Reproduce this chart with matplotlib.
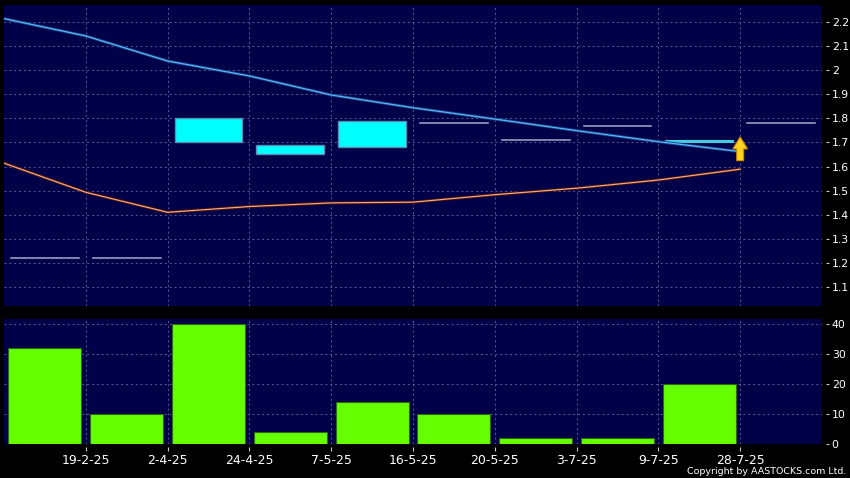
import matplotlib
matplotlib.use("Agg")
import matplotlib.pyplot as plt
from matplotlib.patches import Rectangle
from matplotlib import font_manager

# ---- data ----
tick_labels = ["19-2-25", "2-4-25", "24-4-25", "7-5-25", "16-5-25",
               "20-5-25", "3-7-25", "9-7-25", "28-7-25"]
opens  = [1.22, 1.22, 1.70, 1.69, 1.68, 1.78, 1.71, 1.77, 1.70, 1.78]
closes = [1.22, 1.22, 1.80, 1.65, 1.79, 1.78, 1.71, 1.77, 1.71, 1.78]
volume = [32, 10, 40, 4, 14, 10, 2, 2, 20, 0]
ma_blue   = [2.214, 2.142, 2.038, 1.976, 1.897, 1.844, 1.797, 1.749, 1.703, 1.662]
ma_orange = [1.614, 1.493, 1.410, 1.434, 1.449, 1.452, 1.483, 1.510, 1.544, 1.589]
price_ticks = [1.1, 1.2, 1.3, 1.4, 1.5, 1.6, 1.7, 1.8, 1.9, 2.0, 2.1, 2.2]
price_tick_labels = ["1.1", "1.2", "1.3", "1.4", "1.5", "1.6", "1.7", "1.8", "1.9", "2", "2.1", "2.2"]
vol_ticks = [0, 10, 20, 30, 40]
arrow_slot = 9
arrow_from, arrow_to = 1.624, 1.723

names = {f.name for f in font_manager.fontManager.ttflist}
if "Liberation Sans Narrow" in names:
    NARROW = "Liberation Sans Narrow"
    ysize, csize = 9.5, 8.8
else:
    NARROW = "DejaVu Sans"
    ysize, csize = 7.8, 6.8

BG = "#000048"
GRID = "#5a5a96"
n = len(opens)

fig = plt.figure(figsize=(8.5, 4.78), dpi=100, facecolor="black")
ax1 = fig.add_axes([4/850, 1-306/478, 818/850, 301/478], facecolor=BG)
ax2 = fig.add_axes([4/850, 1-444/478, 818/850, 125/478], facecolor=BG)

for ax in (ax1, ax2):
    ax.set_xlim(0, n)
    for s in ax.spines.values():
        s.set_visible(False)
    ax.spines["right"].set_position(("outward", 3.2))
    ax.spines["bottom"].set_position(("outward", 2))
    ax.yaxis.tick_right()
    ax.set_xticks(range(1, n))
    ax.grid(True, color=GRID, linestyle=(0, (2, 3)), linewidth=0.7)
    ax.set_axisbelow(True)
    ax.tick_params(axis="y", colors="#c8c8c8", direction="out", length=2.0,
                   width=0.8, pad=1.8, labelcolor="white")

# ---- price panel ----
ax1.set_ylim(1.021, 2.2705)
ax1.set_yticks(price_ticks)
ax1.set_yticklabels(price_tick_labels, color="white", family=NARROW, fontsize=ysize)
ax1.tick_params(axis="x", length=0, labelbottom=False)

cw = 0.83
for i, (o, c) in enumerate(zip(opens, closes)):
    xc = i + 0.5
    lo, hi = min(o, c), max(o, c)
    if hi - lo < 1e-9:
        ax1.plot([xc - cw/2, xc + cw/2], [o, c], color="#a8a8cc", lw=1.1, zorder=3)
    elif hi - lo < 0.015:
        ax1.add_patch(Rectangle((xc - cw/2, lo), cw, hi - lo, facecolor="#44cce0",
                                edgecolor="#44cce0", lw=0.8, zorder=3))
    else:
        ax1.add_patch(Rectangle((xc - cw/2, lo), cw, hi - lo, facecolor="#00ffff",
                                edgecolor="#5a8cb4", lw=1.0, zorder=3))

xs = list(range(n))
ax1.plot(xs, ma_blue, color="#1a3a8a", lw=2.2, zorder=4, solid_capstyle="round")
ax1.plot(xs, ma_blue, color="#58b8f0", lw=0.9, zorder=5)
ax1.plot(xs, ma_orange, color="#4a1010", lw=2.2, zorder=4)
ax1.plot(xs, ma_orange, color="#f0a880", lw=0.9, zorder=5)

ax1.arrow(arrow_slot, arrow_from, 0, arrow_to - arrow_from, width=0.085,
          head_width=0.18, head_length=0.05, length_includes_head=True,
          facecolor="#ffd21e", edgecolor="#c88a00", lw=0.8, zorder=6)

# ---- volume panel ----
ax2.set_ylim(0, 41.8)
ax2.set_yticks(vol_ticks)
ax2.set_yticklabels([str(v) for v in vol_ticks], color="white", family=NARROW, fontsize=ysize)
ax2.bar([i + 0.5 for i in range(n)], volume, width=0.89, color="#66ff00",
        edgecolor="#2a6a10", linewidth=0.8, zorder=3)
ax2.set_xticklabels(tick_labels)
ax2.tick_params(axis="x", colors="#c8c8c8", direction="out", length=3, width=0.8,
                pad=2, labelsize=9, labelcolor="white")

fig.text(846/850, 1-471/478, "Copyright by AASTOCKS.com Ltd.", color="white",
         fontsize=csize, family=NARROW, ha="right", va="center")

fig.savefig("out.png", dpi=100, facecolor="black")
